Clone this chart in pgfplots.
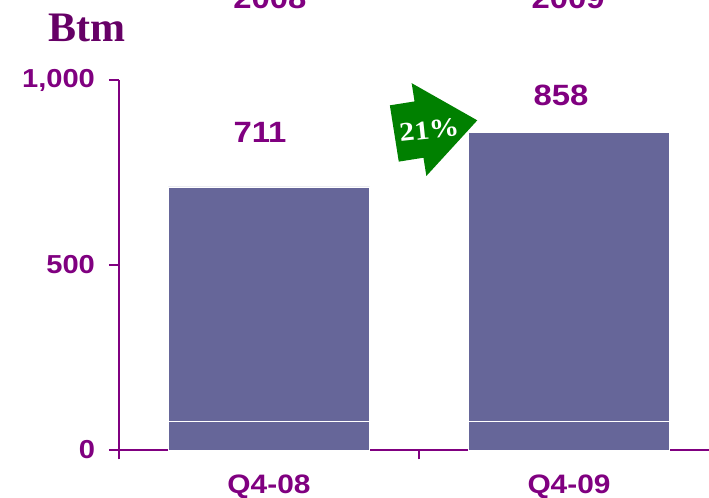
\documentclass[border=0pt]{standalone}
\usepackage{pgfplots}
\pgfplotsset{compat=1.18}
\usepackage{fontspec}
\setmainfont{Liberation Sans}[FakeStretch=1.12]
\newfontfamily\serifb{Liberation Serif}
\newfontfamily\serifw{Liberation Serif}[FakeStretch=1.12]
\definecolor{plum}{HTML}{800080}
\definecolor{btm}{HTML}{660066}
\definecolor{barc}{HTML}{666699}
\definecolor{arrowg}{HTML}{008000}
\begin{document}
\begin{tikzpicture}
\path[use as bounding box, clip] (-89.25pt,-36pt) rectangle (442.5pt,337.5pt);
\begin{axis}[
  at={(0pt,0pt)}, anchor=south west,
  width=450pt, height=277.5pt, scale only axis,
  xmin=-0.5, xmax=1.5, ymin=0, ymax=1000,
  axis lines*=left,
  axis line style={plum, line width=2pt},
  clip=false,
  ytick={0,500,1000}, yticklabels={0,500,{1,000}},
  xtick={0,1}, xticklabels={Q4-08,Q4-09},
  minor xtick={-0.5,0.5,1.5},
  tick align=outside,
  major tick length=7.5pt, minor tick length=7pt,
  ytick style={plum, line width=2pt},
  xtick style={draw=none},
  minor x tick style={draw=plum, line width=2pt},
  y tick label style={font=\bfseries\fontsize{19.5}{19.5}\selectfont, text=plum, xshift=-7pt},
  x tick label style={font=\bfseries\fontsize{20}{20}\selectfont, text=plum, yshift=-8pt},
  ybar stacked, bar width=151pt,
]
\addplot[fill=barc, draw=white, line width=0.6pt] coordinates {(0,78) (1,78)};
\addplot[fill=barc, draw=white, line width=0.6pt] coordinates {(0,633) (1,780)};
\node[font=\bfseries\fontsize{22}{22}\selectfont, text=plum] at (axis cs:-0.03,857) {711};
\node[font=\bfseries\fontsize{22}{22}\selectfont, text=plum] at (axis cs:0.973,959) {858};
\node[font=\bfseries\fontsize{22}{22}\selectfont, text=plum, anchor=base] at (axis cs:0.003,1192) {2008};
\node[font=\bfseries\fontsize{22}{22}\selectfont, text=plum, anchor=base] at (axis cs:0.997,1192) {2009};
\node[font=\serifb\bfseries\fontsize{31.5}{31.5}\selectfont, text=btm, anchor=base west, inner sep=0pt] at (axis cs:-0.737,1105) {Btm};
\coordinate (A) at (axis cs:0.5,866);
\end{axis}
\begin{scope}[shift={(A)}, rotate=9, x=0.75pt, y=0.75pt]
\fill[arrowg] (-25,-28.5) -- (0,-28.5) -- (0,-47) -- (59,0) -- (0,47) -- (0,28.5) -- (-25,28.5) -- cycle;
\node[font=\serifw\bfseries\fontsize{20}{20}\selectfont, text=white, rotate=6] at (10,-2) {21\%};
\end{scope}
\end{tikzpicture}
\end{document}
